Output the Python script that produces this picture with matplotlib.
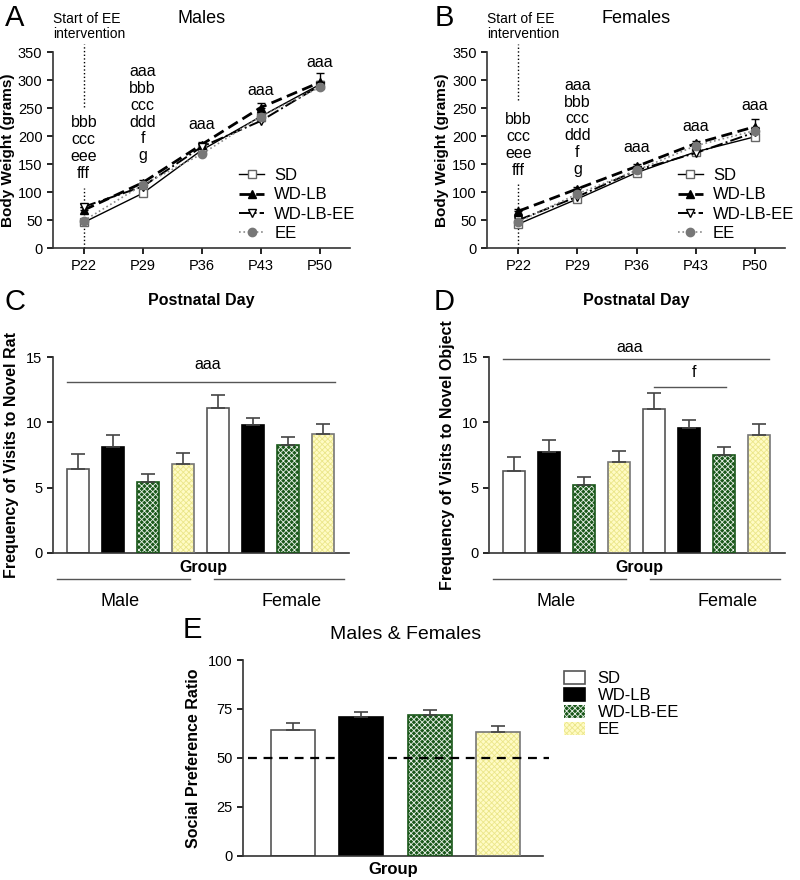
import numpy as np
import matplotlib
matplotlib.use("Agg")
import matplotlib.pyplot as plt
from matplotlib.patches import Patch

plt.rcParams['font.family'] = ['Liberation Sans', 'DejaVu Sans']
plt.rcParams['hatch.linewidth'] = 0.6

# ---- data ----
days = ['P22', 'P29', 'P36', 'P43', 'P50']
groups = ['SD', 'WD-LB', 'WD-LB-EE', 'EE']

male_sd = [46, 98, 175, 235, 292]
male_wdlb = [68, 117, 185, 251, 296]
male_wdlbee = [74, 110, 181, 227, 290]
male_ee = [49, 113, 168, 235, 287]
male_sd_err = [4, 4, 5, 6, 6]
male_wdlb_err = [5, 5, 5, 9, 16]
male_wdlbee_err = [4, 4, 5, 6, 7]
male_ee_err = [3, 4, 4, 6, 6]

female_sd = [43, 88, 135, 172, 199]
female_wdlb = [66, 106, 146, 187, 217]
female_wdlbee = [50, 92, 139, 170, 207]
female_ee = [47, 97, 139, 183, 210]
female_sd_err = [3, 3, 4, 5, 5]
female_wdlb_err = [4, 4, 4, 5, 13]
female_wdlbee_err = [3, 3, 4, 5, 6]
female_ee_err = [3, 3, 4, 5, 5]

# visits to novel rat (male SD..EE, female SD..EE)
rat_mean = [6.4, 8.1, 5.4, 6.8, 11.1, 9.8, 8.3, 9.1]
rat_err = [1.2, 0.9, 0.65, 0.85, 1.0, 0.55, 0.6, 0.8]
# visits to novel object
obj_mean = [6.3, 7.7, 5.2, 7.0, 11.0, 9.6, 7.5, 9.0]
obj_err = [1.05, 0.95, 0.6, 0.8, 1.25, 0.6, 0.6, 0.85]
# social preference ratio
spr_mean = [64.1, 70.7, 71.8, 63.4]
spr_err = [3.6, 2.8, 2.7, 3.1]

# ---- styles ----
dark = '#333333'
face = {'SD': 'white', 'WD-LB': 'black', 'WD-LB-EE': '#1a581a', 'EE': '#fffbc4'}
hatchc = {'SD': None, 'WD-LB': None, 'WD-LB-EE': '#e8f0e8', 'EE': '#ebe68a'}
edge = {'SD': '#555555', 'WD-LB': 'black', 'WD-LB-EE': '#1a581a', 'EE': '#777777'}
HATCH = 'xxxxxx'

line_sty = {
    'SD': dict(color='black', ls='-', lw=1.0, marker='s', mfc='white', mec='#666666', ms=6),
    'WD-LB': dict(color='black', ls=(0, (4, 2)), lw=2.0, marker='^', mfc='black', mec='black', ms=6),
    'WD-LB-EE': dict(color='black', ls='-.', lw=1.4, marker='v', mfc='white', mec='black', ms=6),
    'EE': dict(color='#888888', ls=':', lw=1.2, marker='o', mfc='#777777', mec='#777777', ms=6),
}

fig = plt.figure(figsize=(8, 8.8), dpi=100)


def style_axes(ax):
    for s in ['top', 'right']:
        ax.spines[s].set_visible(False)
    for s in ['left', 'bottom']:
        ax.spines[s].set_color(dark)
        ax.spines[s].set_linewidth(1.2)
    ax.tick_params(colors='black', labelsize=10.5, width=1.2, length=4)
    for t in ax.get_xticklines() + ax.get_yticklines():
        t.set_color(dark)


def draw_bar(ax, x, h, g, width):
    hc = hatchc[g]
    if hc is not None:
        ax.bar(x, h, width, color=face[g], edgecolor=hc, hatch=HATCH, lw=0, zorder=2)
        ax.bar(x, h, width, fill=False, edgecolor=edge[g], lw=1.2, zorder=3)
    else:
        ax.bar(x, h, width, color=face[g], edgecolor=edge[g], lw=1.2, zorder=2)


# ---- growth panels ----
def growth(ax, series, errs, title, notes, dline, leg_x):
    x = np.arange(len(days))
    for g in groups:
        st = line_sty[g]
        ax.errorbar(x, series[g], yerr=[np.zeros(len(days)), errs[g]], fmt='none',
                    ecolor='black', elinewidth=1.0, capsize=3, capthick=1.0, zorder=3)
        ax.plot(x, series[g], label=g, zorder=4, **st)
    ax.set_xlim(-0.525, 4.51)
    ax.set_ylim(0, 350)
    ax.set_yticks(range(0, 351, 50))
    ax.set_xticks(x)
    ax.set_xticklabels(days)
    style_axes(ax)
    ax.set_ylabel('Body Weight (grams)', fontsize=11, fontweight='bold', labelpad=2)
    ax.set_xlabel('Postnatal Day', fontsize=11.5, fontweight='bold', labelpad=15)
    ax.text(0.5, 1.173, title, transform=ax.transAxes, ha='center', va='center', fontsize=13)
    ax.text(0.0, 1.132, 'Start of EE\nintervention', transform=ax.transAxes, ha='left',
            va='center', fontsize=10, linespacing=1.1)
    ax.plot([0, 0], [dline[0], 365], ls=':', color='black', lw=1, clip_on=False)
    ax.plot([0, 0], [0, dline[1]], ls=':', color='black', lw=1, clip_on=False)
    for xi, yi, s in notes:
        ax.text(xi, yi, s, ha='center', va='center', fontsize=11.5, linespacing=1.15, clip_on=False)
    ax.legend(loc='upper left', bbox_to_anchor=(leg_x, 0.45), frameon=False, fontsize=12,
              numpoints=1, handlelength=1.5, handletextpad=0.6, labelspacing=0.25,
              borderpad=0)


axA = fig.add_axes([0.066, 0.718, 0.371, 0.2227])
growth(axA,
       {'SD': male_sd, 'WD-LB': male_wdlb, 'WD-LB-EE': male_wdlbee, 'EE': male_ee},
       {'SD': male_sd_err, 'WD-LB': male_wdlb_err, 'WD-LB-EE': male_wdlbee_err, 'EE': male_ee_err},
       'Males',
       [(0, 179, 'bbb\nccc\neee\nfff'), (1, 240, 'aaa\nbbb\nccc\nddd\nf\ng'),
        (2, 220, 'aaa'), (3, 282, 'aaa'), (4, 332, 'aaa')],
       (252, 107), 0.6)

axB = fig.add_axes([0.609, 0.718, 0.3725, 0.2227])
growth(axB,
       {'SD': female_sd, 'WD-LB': female_wdlb, 'WD-LB-EE': female_wdlbee, 'EE': female_ee},
       {'SD': female_sd_err, 'WD-LB': female_wdlb_err, 'WD-LB-EE': female_wdlbee_err, 'EE': female_ee_err},
       'Females',
       [(0, 184, 'bbb\nccc\neee\nfff'), (1, 216, 'aaa\nbbb\nccc\nddd\nf\ng'),
        (2, 179, 'aaa'), (3, 218, 'aaa'), (4, 255, 'aaa')],
       (264, 114), 0.612)


# ---- visit panels ----
def visits(ax, means, errs, ylabel):
    x = np.arange(8)
    for i in range(8):
        draw_bar(ax, x[i], means[i], groups[i % 4], 0.63)
    ax.errorbar(x, means, yerr=[np.zeros(8), errs], fmt='none', ecolor='#444444',
                elinewidth=1.2, capsize=5, capthick=1.2, zorder=4)
    ax.set_xlim(-0.714, 7.74)
    ax.set_ylim(0, 15)
    ax.set_yticks([0, 5, 10, 15])
    ax.set_xticks([])
    style_axes(ax)
    ax.set_ylabel(ylabel, fontsize=11.5, fontweight='bold', labelpad=5)
    ax.text(0.51, -0.072, 'Group', transform=ax.transAxes, ha='center', va='center',
            fontsize=11.5, fontweight='bold')
    tr = ax.get_xaxis_transform()
    ax.plot([-0.6, 3.2], [-0.133, -0.133], color='#555555', lw=1, transform=tr, clip_on=False)
    ax.plot([3.9, 7.6], [-0.133, -0.133], color='#555555', lw=1, transform=tr, clip_on=False)
    ax.text(1.22, -0.25, 'Male', transform=tr, ha='center', va='center', fontsize=13)
    ax.text(6.1, -0.25, 'Female', transform=tr, ha='center', va='center', fontsize=13)


axC = fig.add_axes([0.066, 0.3716, 0.37, 0.2227])
visits(axC, rat_mean, rat_err, 'Frequency of Visits to Novel Rat')
axC.plot([-0.31, 7.34], [13.09, 13.09], color='#555555', lw=1)
axC.text(3.71, 14.46, 'aaa', ha='center', va='center', fontsize=11.5)

axD = fig.add_axes([0.611, 0.3716, 0.37, 0.2227])
visits(axD, obj_mean, obj_err, 'Frequency of Visits to Novel Object')
axD.plot([-0.31, 7.28], [14.87, 14.87], color='#555555', lw=1, clip_on=False)
axD.text(3.31, 15.7, 'aaa', ha='center', va='center', fontsize=11.5, clip_on=False)
axD.plot([4.0, 6.06], [12.7, 12.7], color='#555555', lw=1)
axD.text(5.16, 13.8, 'f', ha='center', va='center', fontsize=11.5)

# ---- social preference ----
axE = fig.add_axes([0.304, 0.0273, 0.375, 0.2227])
xe = np.arange(4)
for i, g in enumerate(groups):
    draw_bar(axE, xe[i], spr_mean[i], g, 0.645)
axE.errorbar(xe, spr_mean, yerr=[np.zeros(4), spr_err], fmt='none', ecolor='#444444',
             elinewidth=1.2, capsize=5, capthick=1.2, zorder=4)
axE.plot([-0.66, 3.75], [50, 50], ls=(0, (4, 3)), color='black', lw=1.6, zorder=5, clip_on=False)
axE.set_xlim(-0.73, 3.66)
axE.set_ylim(0, 100)
axE.set_yticks([0, 25, 50, 75, 100])
axE.set_xticks([])
style_axes(axE)
axE.set_ylabel('Social Preference Ratio', fontsize=11.5, fontweight='bold', labelpad=5)
axE.text(0.5, -0.071, 'Group', transform=axE.transAxes, ha='center', va='center',
         fontsize=12, fontweight='bold')
axE.text(0.54, 1.128, 'Males & Females', transform=axE.transAxes, ha='center', va='center',
         fontsize=14)

handles = []
for g in groups:
    if hatchc[g] is not None:
        handles.append(Patch(facecolor=face[g], edgecolor=hatchc[g], hatch=HATCH, lw=0))
    else:
        handles.append(Patch(facecolor=face[g], edgecolor=edge[g], lw=1.2))
axE.legend(handles, groups, loc='upper left', bbox_to_anchor=(1.04, 0.985), frameon=False,
           fontsize=12, handlelength=1.3, handleheight=0.75, handletextpad=0.75,
           labelspacing=0.12, borderpad=0)

# panel letters
for lab, (px, py) in {'A': (0.018, 0.98), 'B': (0.555, 0.98), 'C': (0.019, 0.657),
                      'D': (0.555, 0.657), 'E': (0.241, 0.284)}.items():
    fig.text(px, py, lab, ha='center', va='center', fontsize=21)

fig.savefig('out.png', dpi=100)
